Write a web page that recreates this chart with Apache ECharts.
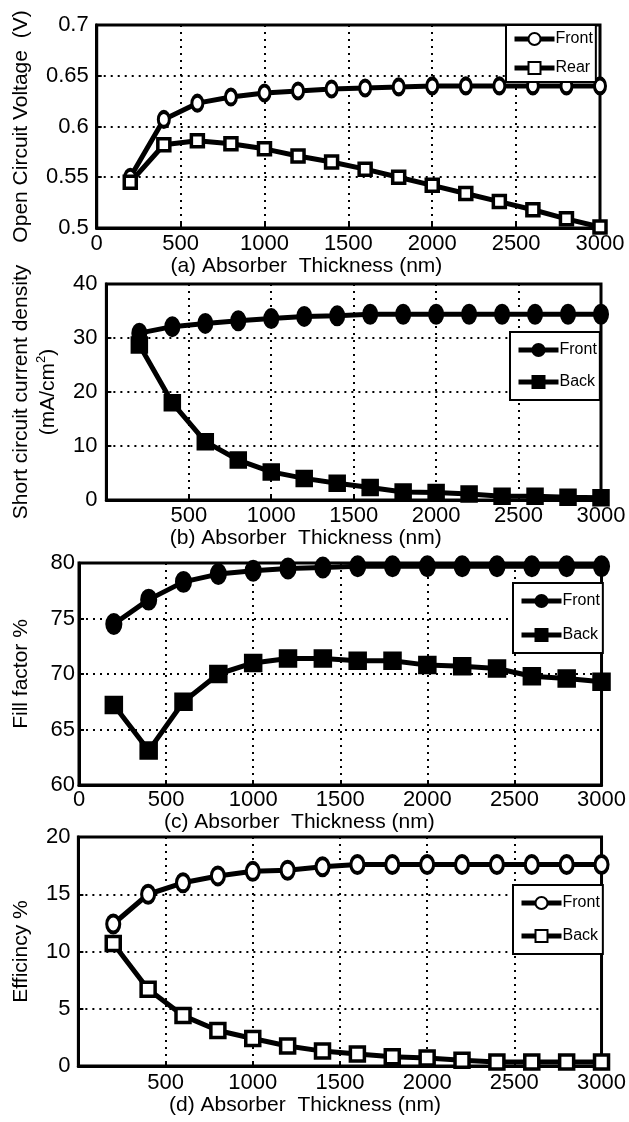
<!DOCTYPE html>
<html>
<head>
<meta charset="utf-8">
<script src="https://cdn.jsdelivr.net/npm/echarts@6/dist/echarts.min.js"></script>
<style>
  html, body { margin: 0; padding: 0; background: #fff; }
  #chart { width: 629px; height: 1122px; }
</style>
</head>
<body>
<div id="chart"></div>
<script>
var thickness = [200, 400, 600, 800, 1000, 1200, 1400, 1600, 1800, 2000, 2200, 2400, 2600, 2800, 3000];

var vocFront = [0.550, 0.607, 0.623, 0.629, 0.633, 0.635, 0.637, 0.638, 0.639, 0.640, 0.640, 0.640, 0.640, 0.640, 0.640];
var vocRear = [0.545, 0.582, 0.586, 0.583, 0.578, 0.571, 0.565, 0.558, 0.550, 0.542, 0.534, 0.526, 0.518, 0.509, 0.501];

var jscFront = [30.9, 32.1, 32.7, 33.2, 33.6, 34.0, 34.1, 34.4, 34.4, 34.4, 34.4, 34.4, 34.4, 34.4, 34.4];
var jscBack = [28.7, 18.0, 10.8, 7.4, 5.2, 4.0, 3.1, 2.3, 1.5, 1.4, 1.1, 0.7, 0.7, 0.5, 0.4];

var ffFront = [74.5, 76.7, 78.3, 79.0, 79.3, 79.5, 79.6, 79.7, 79.7, 79.7, 79.7, 79.7, 79.7, 79.7, 79.7];
var ffBack = [67.2, 63.1, 67.5, 70.0, 71.0, 71.4, 71.4, 71.2, 71.2, 70.8, 70.7, 70.5, 69.8, 69.6, 69.3];

var effFront = [12.4, 15.0, 16.0, 16.6, 17.0, 17.1, 17.4, 17.6, 17.6, 17.6, 17.6, 17.6, 17.6, 17.6, 17.6];
var effBack = [10.7, 6.7, 4.4, 3.1, 2.4, 1.75, 1.3, 1.05, 0.8, 0.7, 0.5, 0.35, 0.35, 0.35, 0.35];

var xTitles = ['(a) Absorber  Thickness (nm)', '(b) Absorber  Thickness (nm)',
               '(c) Absorber  Thickness (nm)', '(d) Absorber  Thickness (nm)'];
var yTitles = ['Open Circuit Voltage  (V)', 'Short circuit current density\n(mA/cm{sup|2})',
               'Fill factor %', 'Efficincy %'];
var legendNames = [['Front', 'Rear'], ['Front', 'Back'], ['Front', 'Back'], ['Front', 'Back']];

var font = 'Liberation Sans, Arial, sans-serif';

// panel layout, in px
var panels = [
  { left: 86, top: 25, width: 514, height: 203, yMin: 0.5, yMax: 0.7, yStep: 0.05,
    yGap: 52, yLabelMargin: 8, xLabelMargin: 5, xNameGap: 28, xShift: 84, showX0: true,
    legend: { left: 506, top: 25, gap: 13, pad: 6 }, filled: false, size: 12 },
  { left: 96, top: 284, width: 505, height: 216, yMin: 0, yMax: 40, yStep: 10,
    yGap: 40, yLabelMargin: 9, xLabelMargin: 5, xNameGap: 27, xShift: 96, showX0: false,
    legend: { left: 510, top: 332, gap: 16, pad: 10 }, filled: true, size: 14 },
  { left: 75, top: 563, width: 532, height: 222, yMin: 60, yMax: 80, yStep: 5,
    yGap: 44, yLabelMargin: 4, xLabelMargin: 4, xNameGap: 27, xShift: 82, showX0: true,
    legend: { left: 513, top: 583, gap: 18, pad: 10 }, filled: true, size: 15 },
  { left: 74, top: 837, width: 533, height: 229, yMin: 0, yMax: 20, yStep: 5,
    yGap: 42, yLabelMargin: 8, xLabelMargin: 6, xNameGap: 28, xShift: 70, showX0: false,
    legend: { left: 513, top: 885, gap: 17, pad: 10 }, filled: false, size: 14 }
];

var seriesData = [[vocFront, vocRear], [jscFront, jscBack], [ffFront, ffBack], [effFront, effBack]];

var grids = [], xAxes = [], yAxes = [], series = [], legends = [];

panels.forEach(function (p, i) {
  grids.push({
    left: p.left, top: p.top, width: p.width, height: p.height,
    show: true, borderColor: '#000', borderWidth: 3, backgroundColor: '#fff'
  });
  xAxes.push({
    type: 'value', gridIndex: i, min: 0, max: 3000, interval: 500,
    name: xTitles[i], nameLocation: 'middle', nameGap: p.xNameGap,
    nameTextStyle: { fontFamily: font, fontSize: 21, color: '#000', padding: [0, p.xShift, 0, 0] },
    axisLine: { show: true, lineStyle: { color: '#000', width: 3 } },
    axisTick: { show: true, inside: true, length: 5, lineStyle: { color: '#000', width: 2 } },
    axisLabel: {
      fontFamily: font, fontSize: 22, color: '#000', margin: p.xLabelMargin,
      showMinLabel: p.showX0,
      formatter: function (v) { return String(v); }
    },
    splitLine: { show: true, lineStyle: { color: '#000', width: 2, type: [2, 5] } }
  });
  yAxes.push({
    type: 'value', gridIndex: i, min: p.yMin, max: p.yMax, interval: p.yStep,
    name: yTitles[i], nameLocation: 'middle', nameGap: p.yGap,
    nameTextStyle: {
      fontFamily: font, fontSize: 21, color: '#000', lineHeight: 27,
      rich: { sup: { fontFamily: font, fontSize: 13, color: '#000', verticalAlign: 'top', lineHeight: 18 } }
    },
    axisLine: { show: true, lineStyle: { color: '#000', width: 3 } },
    axisTick: { show: true, inside: true, length: 5, lineStyle: { color: '#000', width: 2 } },
    axisLabel: {
      fontFamily: font, fontSize: 22, color: '#000', margin: p.yLabelMargin,
      formatter: function (v) { return String(+v.toFixed(2)); }
    },
    splitLine: { show: true, lineStyle: { color: '#000', width: 2, type: [2, 5] } }
  });

  var ids = [];
  seriesData[i].forEach(function (vals, k) {
    var id = legendNames[i][k] + '|' + i;
    ids.push(id);
    series.push({
      name: id, type: 'line', xAxisIndex: i, yAxisIndex: i,
      data: thickness.map(function (t, j) { return [t, vals[j]]; }),
      symbol: k === 0 ? 'circle' : 'rect',
      symbolSize: k === 0 ? [p.size - 1, p.size + 3] : p.size,
      showAllSymbol: true,
      clip: false,
      lineStyle: { color: '#000', width: 5 },
      itemStyle: { color: p.filled ? '#000' : '#fff', borderColor: '#000', borderWidth: 3.5 },
      emphasis: { disabled: true },
      z: 3
    });
  });

  legends.push({
    data: ids, orient: 'vertical', left: p.legend.left, top: p.legend.top,
    itemWidth: 40, itemHeight: 15, itemGap: p.legend.gap,
    padding: [p.legend.pad, 3, p.legend.pad, 6],
    backgroundColor: '#fff', borderColor: '#000', borderWidth: 2,
    lineStyle: { width: 5, color: '#000' },
    textStyle: { fontFamily: font, fontSize: 16, color: '#000', padding: [0, 0, 0, -4] },
    formatter: function (name) { return name.split('|')[0]; },
    selectedMode: false,
    z: 10
  });
});

var myChart = echarts.init(document.getElementById('chart'));

option = {
  backgroundColor: '#fff',
  animation: false,
  grid: grids,
  xAxis: xAxes,
  yAxis: yAxes,
  legend: legends,
  series: series
};

myChart.setOption(option);
</script>
</body>
</html>
